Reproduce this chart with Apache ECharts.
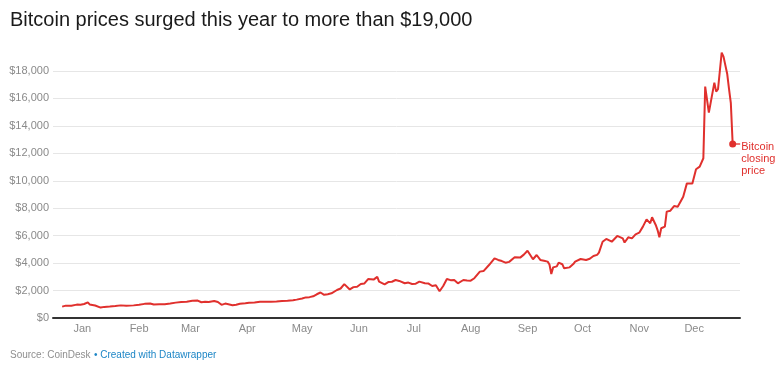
<!DOCTYPE html>
<html>
<head>
<meta charset="utf-8">
<script src="https://cdn.jsdelivr.net/npm/echarts@6/dist/echarts.min.js"></script>
<style>
html,body{margin:0;padding:0;background:#fff;}
#chart{width:780px;height:369px;}
</style>
</head>
<body>
<div id="chart"></div>
<script>
// ---- data ----
const sampleDates = [
'2016-12-21','2016-12-23','2016-12-26','2016-12-29','2016-12-31',
'2017-01-02','2017-01-04','2017-01-05','2017-01-06','2017-01-08','2017-01-11','2017-01-13','2017-01-16','2017-01-19','2017-01-22','2017-01-25','2017-01-29',
'2017-02-01','2017-02-04','2017-02-07','2017-02-09','2017-02-12','2017-02-15','2017-02-18','2017-02-21','2017-02-24','2017-02-27',
'2017-03-02','2017-03-03','2017-03-05','2017-03-07','2017-03-09','2017-03-11','2017-03-14','2017-03-16','2017-03-18','2017-03-20','2017-03-21','2017-03-24','2017-03-26','2017-03-28','2017-03-31',
'2017-04-02','2017-04-05','2017-04-08','2017-04-11','2017-04-14','2017-04-17','2017-04-20','2017-04-23','2017-04-26','2017-04-28',
'2017-05-01','2017-05-03','2017-05-05','2017-05-07','2017-05-09','2017-05-11','2017-05-13','2017-05-15','2017-05-17','2017-05-20','2017-05-22','2017-05-24','2017-05-25','2017-05-27','2017-05-29','2017-05-31',
'2017-06-02','2017-06-04','2017-06-06','2017-06-07','2017-06-09','2017-06-11','2017-06-12','2017-06-13','2017-06-15','2017-06-17','2017-06-19','2017-06-21','2017-06-23','2017-06-26','2017-06-28','2017-06-30',
'2017-07-02','2017-07-04','2017-07-07','2017-07-09','2017-07-11','2017-07-13','2017-07-15','2017-07-16','2017-07-17','2017-07-19','2017-07-21','2017-07-23','2017-07-25','2017-07-28','2017-07-30',
'2017-08-01','2017-08-03','2017-08-04','2017-08-06','2017-08-08','2017-08-09','2017-08-11','2017-08-14','2017-08-16','2017-08-18','2017-08-20','2017-08-22','2017-08-25','2017-08-28','2017-08-30',
'2017-09-01','2017-09-02','2017-09-04','2017-09-06','2017-09-08','2017-09-10','2017-09-12','2017-09-13','2017-09-14','2017-09-15','2017-09-17','2017-09-18','2017-09-20','2017-09-21','2017-09-24','2017-09-26','2017-09-27','2017-09-30',
'2017-10-03','2017-10-05','2017-10-07','2017-10-09','2017-10-10','2017-10-12','2017-10-14','2017-10-15','2017-10-17','2017-10-18','2017-10-20','2017-10-21','2017-10-23','2017-10-24','2017-10-26','2017-10-28','2017-10-30',
'2017-11-01','2017-11-03','2017-11-05','2017-11-07','2017-11-08','2017-11-10','2017-11-11','2017-11-12','2017-11-13','2017-11-15','2017-11-16','2017-11-18','2017-11-20','2017-11-22','2017-11-23','2017-11-25','2017-11-27','2017-11-28','2017-11-30',
'2017-12-02','2017-12-04','2017-12-06','2017-12-07','2017-12-09','2017-12-10','2017-12-12','2017-12-13','2017-12-14','2017-12-16','2017-12-17','2017-12-18','2017-12-19','2017-12-20','2017-12-21','2017-12-22'
];
const prices = [
830,900,900,975,960,
1020,1140,990,890,910,760,810,830,870,920,890,920,
970,1030,1060,980,1000,1010,1060,1120,1170,1190,
1250,1280,1270,1150,1190,1170,1240,1170,960,1050,1120,930,970,1040,1080,
1110,1130,1180,1190,1180,1200,1240,1250,1290,1340,
1420,1500,1520,1580,1730,1860,1690,1730,1800,2040,2150,2470,2350,2080,2250,2280,
2480,2520,2840,2700,2800,3000,2650,2720,2450,2620,2640,2770,2700,2530,2580,2480,
2500,2650,2530,2510,2330,2380,1950,1920,2330,2840,2760,2770,2530,2770,2730,
2720,2900,3010,3380,3420,3450,3860,4350,4230,4150,4030,4090,4420,4400,4620,
4900,4800,4280,4590,4230,4170,4110,3900,3210,3690,3760,4030,3920,3620,3690,3930,4110,4300,
4230,4320,4520,4600,4760,5560,5760,5680,5560,5600,5980,5960,5800,5500,5880,5800,6100,
6220,6660,7190,6900,7340,6780,6410,5880,6540,6660,7750,7820,8160,8110,8100,8840,9810,9940,9810,
10840,11030,11640,16860,14970,15040,17150,16500,16670,19340,19050,18950,17800,16700,15650,12680
];
const axisStart = '2016-12-16';
const axisEnd = '2017-12-26';
const monthNames = ['Jan','Feb','Mar','Apr','May','Jun','Jul','Aug','Sep','Oct','Nov','Dec'];
const yMax = 18000, yStep = 2000;

// ---- build daily category axis ----
const categories = [];
for (let t = Date.parse(axisStart + 'T00:00:00Z'); t <= Date.parse(axisEnd + 'T00:00:00Z'); t += 86400000) {
  categories.push(new Date(t).toISOString().slice(0, 10));
}
const lookup = {};
sampleDates.forEach((d, i) => { lookup[d] = prices[i]; });
const seriesData = categories.map(d => (d in lookup ? lookup[d] : null));
const lastDate = sampleDates[sampleDates.length - 1];
const lastPrice = prices[prices.length - 1];

const FONT = 'Liberation Sans, Arial, Helvetica, sans-serif';
const RED = '#e0302d';

const chart = echarts.init(document.getElementById('chart'), null, {renderer: 'canvas'});
chart.setOption({
  animation: false,
  backgroundColor: '#ffffff',
  textStyle: {fontFamily: FONT},
  title: {
    text: 'Bitcoin prices surged this year to more than $19,000',
    left: 10, top: 10, padding: 0,
    textStyle: {fontSize: 20, fontWeight: 'normal', color: '#1a1a1a', fontFamily: FONT}
  },
  grid: {left: 53, right: 40, top: 71, bottom: 51, containLabel: false, outerBoundsMode: 'none'},
  xAxis: {
    type: 'category',
    data: categories,
    boundaryGap: false,
    axisLine: {show: true, lineStyle: {color: '#333333', width: 2}},
    axisTick: {show: false},
    splitLine: {show: false},
    axisLabel: {
      interval: (idx, val) => val.slice(8) === '01' && val.slice(0, 4) === '2017',
      formatter: val => monthNames[parseInt(val.slice(5, 7), 10) - 1],
      color: '#8a8a8a', fontSize: 11, margin: 5, fontFamily: FONT
    }
  },
  yAxis: {
    type: 'value',
    min: 0, max: yMax, interval: yStep,
    axisLine: {show: false},
    axisTick: {show: false},
    splitLine: {show: true, lineStyle: {color: '#e6e6e6', width: 1}},
    axisLabel: {
      formatter: v => '$' + v.toLocaleString('en-US'),
      color: '#8a8a8a', fontSize: 11, margin: 4, fontFamily: FONT
    }
  },
  series: [{
    type: 'line',
    data: seriesData,
    connectNulls: true,
    showSymbol: false,
    clip: false,
    lineStyle: {color: RED, width: 2},
    itemStyle: {color: RED},
    z: 3,
    markPoint: {
      symbol: 'circle',
      symbolSize: 7,
      itemStyle: {color: RED},
      data: [
        {
          coord: [lastDate, lastPrice],
          symbol: 'rect', symbolSize: [5, 1.3], symbolOffset: [5, 0],
          label: {show: false}
        },
        {
          coord: [lastDate, lastPrice],
          label: {
            show: true, position: 'right', distance: 5, offset: [0, 15],
            formatter: 'Bitcoin\nclosing\nprice',
            color: RED, fontSize: 11, lineHeight: 12.3, fontFamily: FONT, align: 'left'
          }
        }
      ]
    }
  }],
  graphic: [{
    type: 'text',
    left: 10, top: 349,
    style: {
      text: '{s|Source: CoinDesk} {l|• Created with Datawrapper}',
      rich: {
        s: {fill: '#8f8f8f', fontSize: 10, fontFamily: FONT},
        l: {fill: '#1d86c6', fontSize: 10, fontFamily: FONT}
      }
    }
  }]
});
</script>
</body>
</html>
